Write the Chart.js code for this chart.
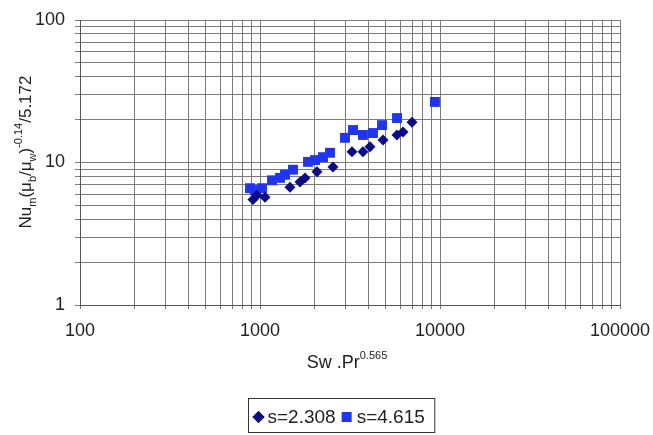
<!DOCTYPE html>
<html>
<head>
<meta charset="utf-8">
<script src="https://cdn.jsdelivr.net/npm/chart.js@4.4.1/dist/chart.umd.min.js"></script>
<style>
    html, body { margin: 0; padding: 0; background: #fff; }
    #wrap { width: 653px; height: 435px; }
</style>
</head>
<body>
<div id="wrap"><canvas id="nuChart" width="653" height="435"></canvas></div>
<script>
// data
const swA = [914, 960, 1066, 1468, 1668, 1778, 2073, 2545, 3245, 3733, 4083, 4822, 5770, 6228, 6989];
const nuA = [5.5, 5.9, 5.7, 6.7, 7.3, 7.8, 8.6, 9.3, 11.9, 11.9, 12.9, 14.4, 15.6, 16.4, 19.2];
const swB = [880, 938, 1026, 1166, 1292, 1377, 1525, 1848, 2022, 2239, 2448, 2966, 3287, 3733, 4244, 4762, 5770, 9374];
const nuB = [6.6, 6.4, 6.6, 7.5, 7.8, 8.2, 8.9, 10.1, 10.4, 10.9, 11.7, 14.9, 16.9, 15.6, 16.1, 18.3, 20.5, 26.6];

const seriesNames = ['s=2.308', 's=4.615'];
const xMajor = [100, 1000, 10000, 100000];
const yMajor = [1, 10, 100];

const FONT = 'Arial, "Liberation Sans", sans-serif';

// 1..9 per decade for the log grid
function logGrid(major) {
    const out = [];
    for (let i = 0; i < major.length - 1; i++) {
        for (let k = 1; k < 10; k++) out.push(major[i] * k);
    }
    out.push(major[major.length - 1]);
    return out;
}

function toPoints(xs, ys) {
    return xs.map((x, i) => ({ x: x, y: ys[i] }));
}

// draws text in pieces: [text, size, dy]
function drawRich(ctx, parts, x, y) {
    let cx = x;
    parts.forEach(p => {
        ctx.font = p[1] + 'px ' + FONT;
        ctx.fillText(p[0], cx, y + p[2]);
        cx += ctx.measureText(p[0]).width;
    });
    return cx - x;
}

function richWidth(ctx, parts) {
    let w = 0;
    parts.forEach(p => {
        ctx.font = p[1] + 'px ' + FONT;
        w += ctx.measureText(p[0]).width;
    });
    return w;
}

const titlesAndLegend = {
    id: 'titlesAndLegend',
    afterDraw(chart) {
        const ctx = chart.ctx;
        ctx.save();
        ctx.fillStyle = '#222';
        ctx.textBaseline = 'alphabetic';
        ctx.textAlign = 'left';

        // x title
        const xParts = [['Sw .Pr', 18, 0], ['0.565', 11, -9]];
        const xw = richWidth(ctx, xParts);
        drawRich(ctx, xParts, 347 - xw / 2, 368);

        // y title, rotated
        const yParts = [
            ['Nu', 17, 0], ['m', 11, 5], ['(\u03bc', 17, 0], ['b', 11, 5],
            ['/\u03bc', 17, 0], ['w', 11, 5], [')', 17, 0], ['-0.14', 11, -9], ['/5.172', 17, 0]
        ];
        const yw = richWidth(ctx, yParts);
        ctx.save();
        ctx.translate(31, 152);
        ctx.rotate(-Math.PI / 2);
        drawRich(ctx, yParts, -yw / 2, 0);
        ctx.restore();

        // legend box
        const ds = chart.data.datasets;
        ctx.font = '19px ' + FONT;
        const w1 = ctx.measureText(seriesNames[0]).width;
        const w2 = ctx.measureText(seriesNames[1]).width;
        const boxX = 248.5;
        const boxY = 398.5;
        const boxW = 4 + 15 + w1 + 6 + 15 + w2 + 10;
        ctx.strokeStyle = '#333';
        ctx.lineWidth = 1;
        ctx.strokeRect(boxX, boxY, boxW, 34);

        let cx = boxX + 4;
        const cy = 417;
        Chart.helpers.drawPoint(ctx, {
            pointStyle: 'rectRot', radius: 6, borderWidth: 0
        }, cx + 6, cy);
        ctx.fillStyle = ds[0].backgroundColor;
        ctx.fill();
        cx += 15;
        ctx.fillStyle = '#222';
        ctx.textBaseline = 'middle';
        ctx.fillText(seriesNames[0], cx, cy + 1);
        cx += w1 + 6;
        ctx.fillStyle = ds[1].backgroundColor;
        ctx.fillRect(cx, cy - 5, 10, 10);
        cx += 15;
        ctx.fillStyle = '#222';
        ctx.fillText(seriesNames[1], cx, cy + 1);
        ctx.restore();
    }
};

const ctx = document.getElementById('nuChart');
new Chart(ctx, {
    type: 'scatter',
    data: {
        datasets: [
            {
                label: seriesNames[0],
                data: toPoints(swA, nuA),
                pointStyle: 'rectRot',
                pointRadius: 5.5,
                backgroundColor: '#0a0a8a',
                borderColor: '#0a0a8a',
                borderWidth: 0,
            },
            {
                label: seriesNames[1],
                data: toPoints(swB, nuB),
                pointStyle: 'rect',
                pointRadius: 7,
                backgroundColor: '#1f35f0',
                borderColor: '#1f35f0',
                borderWidth: 0,
            },
        ]
    },
    options: {
        responsive: false,
        animation: false,
        layout: {
            padding: { top: 20, right: 33, left: 0, bottom: 0 }
        },
        scales: {
            x: {
                type: 'logarithmic',
                min: 100,
                max: 100000,
                afterBuildTicks: (scale) => {
                    scale.ticks = logGrid(xMajor).map(v => ({ value: v }));
                },
                afterFit: (scale) => {
                    scale.height = 130;
                    scale.paddingLeft = 0;
                    scale.paddingRight = 0;
                },
                border: {
                    color: '#555',
                },
                grid: {
                    color: '#7a7a7a',
                    tickLength: 4,
                },
                ticks: {
                    autoSkip: false,
                    maxRotation: 0,
                    padding: 11,
                    color: '#222',
                    font: { size: 18, family: FONT },
                    callback: function (value) {
                        return xMajor.includes(value) ? String(value) : '';
                    }
                }
            },
            y: {
                type: 'logarithmic',
                min: 1,
                max: 100,
                afterBuildTicks: (scale) => {
                    scale.ticks = logGrid(yMajor).map(v => ({ value: v }));
                },
                afterFit: (scale) => {
                    scale.width = 80;
                    scale.paddingTop = 0;
                    scale.paddingBottom = 0;
                },
                border: {
                    color: '#555',
                },
                grid: {
                    color: '#7a7a7a',
                    tickLength: 5,
                },
                ticks: {
                    autoSkip: false,
                    padding: 10,
                    color: '#222',
                    font: { size: 18, family: FONT },
                    callback: function (value) {
                        return yMajor.includes(value) ? String(value) : '';
                    }
                }
            }
        },
        plugins: {
            legend: { display: false },
            tooltip: { enabled: false },
        }
    },
    plugins: [titlesAndLegend]
});
</script>
</body>
</html>
